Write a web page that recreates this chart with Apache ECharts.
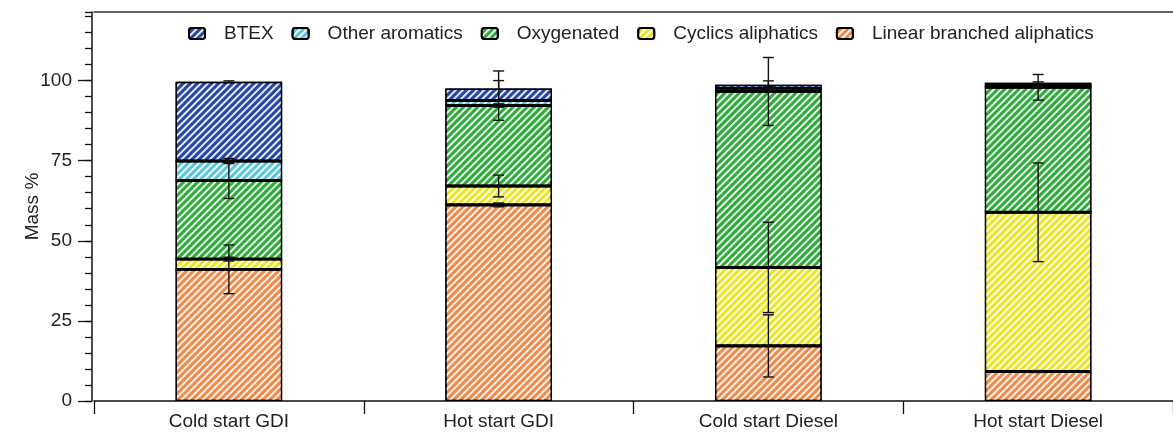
<!DOCTYPE html>
<html>
<head>
<meta charset="utf-8">
<script src="https://cdn.jsdelivr.net/npm/echarts@6/dist/echarts.min.js"></script>
<style>
  html, body { margin: 0; padding: 0; background: #fff; }
  #main { width: 1173px; height: 434px; }
</style>
</head>
<body>
<div id="main"></div>
<script>
// categories and tick labels
var categories = ['Cold start GDI', 'Hot start GDI', 'Cold start Diesel', 'Hot start Diesel'];
var yTicks = [0, 25, 50, 75, 100];

// segment values (mass %), bottom to top of each stacked bar
var linear = [41.1, 61.2, 17.2, 9.2];
var cyclic = [3.2, 5.9, 24.5, 49.7];
var oxygenated = [24.5, 25.1, 54.9, 39.0];
var otherArom = [6.1, 1.6, 1.0, 0.6];
var btex = [24.7, 3.7, 1.1, 0.8];

// error (+/-) drawn at the top of each segment
var linearErr = [7.6, 0.6, 9.7, 0.3];
var cyclicErr = [0.6, 3.4, 14.1, 15.4];
var oxygenatedErr = [5.6, 0.5, 10.6, 4.0];
var otherAromErr = [0.8, 6.2, 0.5, 0.4];
var btexErr = [0.3, 5.5, 1.2, 0.3];

var FONT = 'Liberation Sans, Arial, sans-serif';
var FS = 19;
var BAR_RATIO = 0.395;

var stacks = [
  { name: 'Linear branched aliphatics', color: '#ee8a4c', values: linear, err: linearErr },
  { name: 'Cyclics aliphatics', color: '#e6e62a', values: cyclic, err: cyclicErr },
  { name: 'Oxygenated', color: '#2fab3c', values: oxygenated, err: oxygenatedErr },
  { name: 'Other aromatics', color: '#5cc6d6', values: otherArom, err: otherAromErr },
  { name: 'BTEX', color: '#2646a6', values: btex, err: btexErr }
];

function hatch() {
  return {
    symbol: 'rect',
    symbolSize: 1,
    dashArrayX: [1, 0],
    dashArrayY: [2, 3],
    rotation: -Math.PI / 4,
    color: 'rgba(255,255,255,0.88)'
  };
}

// [category index, cumulative top, error, is internal boundary]
var errData = [];
categories.forEach(function (c, i) {
  var cum = 0;
  stacks.forEach(function (s, k) {
    cum += s.values[i];
    errData.push([i, +cum.toFixed(2), s.err[i], k < stacks.length - 1 ? 1 : 0]);
  });
});

var series = stacks.map(function (s) {
  return {
    name: s.name,
    type: 'bar',
    stack: 'total',
    xAxisIndex: 0,
    yAxisIndex: 0,
    barWidth: (BAR_RATIO * 100) + '%',
    data: s.values,
    itemStyle: {
      color: s.color,
      borderColor: '#000',
      borderWidth: 1.3,
      decal: hatch()
    },
    emphasis: { disabled: true }
  };
});

series.push({
  type: 'custom',
  xAxisIndex: 0,
  yAxisIndex: 0,
  z: 5,
  silent: true,
  data: errData,
  renderItem: function (params, api) {
    var ci = api.value(0), top = api.value(1), e = api.value(2);
    var p = api.coord([ci, top]);
    var hi = api.coord([ci, top + e]);
    var lo = api.coord([ci, top - e]);
    var bw = api.size([1, 0])[0] * BAR_RATIO;
    var cap = 5.5;
    var children = [];
    if (api.value(3)) {
      children.push({ type: 'line', shape: { x1: p[0] - bw / 2, y1: p[1], x2: p[0] + bw / 2, y2: p[1] },
        style: { stroke: '#000', lineWidth: 2.8 } });
    }
    var st = { stroke: '#111', lineWidth: 1.4 };
    children.push({ type: 'line', shape: { x1: p[0], y1: hi[1], x2: p[0], y2: lo[1] }, style: st });
    children.push({ type: 'line', shape: { x1: p[0] - cap, y1: hi[1], x2: p[0] + cap, y2: hi[1] }, style: st });
    children.push({ type: 'line', shape: { x1: p[0] - cap, y1: lo[1], x2: p[0] + cap, y2: lo[1] }, style: st });
    return { type: 'group', children: children };
  }
});

var chart = echarts.init(document.getElementById('main'), null, { renderer: 'canvas' });
chart.setOption({
  animation: false,
  backgroundColor: '#fff',
  textStyle: { fontFamily: FONT },
  legend: {
    data: ['BTEX', 'Other aromatics', 'Oxygenated', 'Cyclics aliphatics', 'Linear branched aliphatics'],
    left: 188,
    top: 24,
    padding: 0,
    itemWidth: 16,
    itemHeight: 11,
    itemGap: 18,
    selectedMode: false,
    textStyle: { fontSize: FS, color: '#222', fontFamily: FONT, padding: [0, 0, 0, 14] }
  },
  grid: [
    { left: 94, right: -5, top: 12, bottom: 33 },
    { left: 94, right: -5, top: 80.6, bottom: 33 }
  ],
  xAxis: [
    {
      type: 'category', gridIndex: 0, data: categories, offset: 2,
      axisLine: { lineStyle: { color: '#111', width: 1.5 } },
      axisTick: { show: true, length: 13, lineStyle: { color: '#111', width: 1.3 } },
      axisLabel: { fontSize: FS, color: '#222', margin: 9, fontFamily: FONT },
      splitLine: { show: false }
    },
    {
      type: 'category', gridIndex: 0, data: categories, position: 'top',
      axisLine: { lineStyle: { color: '#333', width: 1.5 } },
      axisTick: { show: false }, axisLabel: { show: false }
    },
    {
      type: 'category', gridIndex: 1, data: categories, show: false
    }
  ],
  yAxis: [
    {
      type: 'value', gridIndex: 0, min: 0, max: 121.4, interval: 5, offset: 2,
      name: 'Mass %', nameLocation: 'middle', nameGap: 50,
      nameTextStyle: { fontSize: FS, color: '#222', fontFamily: FONT },
      axisLine: { show: true, lineStyle: { color: '#111', width: 1.5 } },
      axisTick: { show: true, length: 7, lineStyle: { color: '#111', width: 1.3 } },
      axisLabel: { show: false },
      splitLine: { show: false }
    },
    {
      type: 'value', gridIndex: 1, min: yTicks[0], max: yTicks[yTicks.length - 1], interval: 25, offset: 2,
      axisLine: { show: false },
      axisTick: { show: true, length: 14, lineStyle: { color: '#111', width: 1.3 } },
      axisLabel: { fontSize: FS, color: '#222', margin: 20, fontFamily: FONT },
      splitLine: { show: false }
    }
  ],
  series: series
});
</script>
</body>
</html>
